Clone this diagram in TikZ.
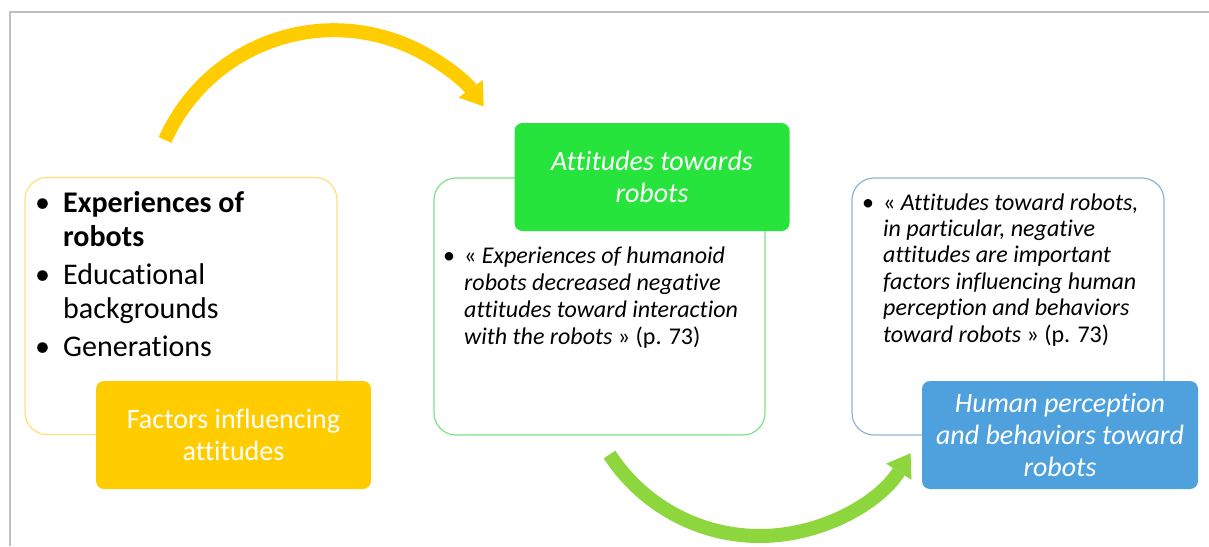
\documentclass[tikz,border=0pt]{standalone}
\usepackage{fontspec}
\setmainfont{Carlito}[Ligatures=NoCommon]
\usepackage{tikz}
\usetikzlibrary{arrows.meta}
\definecolor{factorsyellow}{RGB}{255,204,0}
\definecolor{factorsborder}{RGB}{255,224,120}
\definecolor{attitudesgreen}{RGB}{38,228,60}
\definecolor{attitudesborder}{RGB}{125,226,135}
\definecolor{perceptionblue}{RGB}{79,161,222}
\definecolor{perceptionborder}{RGB}{140,180,215}
\definecolor{arrowgreen}{RGB}{141,214,62}
\definecolor{frameline}{RGB}{191,191,191}
\tikzset{
	whitebox/.style={draw=#1, fill=white, line width=1.2pt, rounded corners=22pt, minimum height=257pt, inner sep=0pt},
	headbox/.style={fill=#1, rounded corners=8pt, minimum width=275pt, minimum height=108pt, text=white, align=center, font=\fontsize{28}{32}\selectfont},
	listtext/.style={anchor=north west, inner sep=0pt, align=left},
	bigarrow/.style={#1, line width=14pt, -{Triangle[length=22pt,width=30pt,line width=0pt]}}
}

\begin{document}
\begin{tikzpicture}[x=1pt,y=-1pt]
	\useasboundingbox (0,0) rectangle (1209,546);
	\draw[frameline, line width=2pt] (10,546) -- (10,12) -- (1209,12);

	\node[whitebox=factorsborder, minimum width=312pt] (factorsbox) at (181,306) {};
	\node[whitebox=attitudesborder, minimum width=331pt] (attitudesbox) at (599.5,306.5) {};
	\node[whitebox=perceptionborder, minimum width=312pt] (perceptionbox) at (1008,306.5) {};

	\node[listtext, font=\fontsize{30}{33.5}\selectfont] (factorslist) at (35,189) {%
		\begin{tabular}{@{}p{28pt}@{}l@{}}
			\textbullet & \textbf{Experiences of}\\
			& \textbf{robots}\\[5pt]
			\textbullet & Educational\\
			& backgrounds\\[5pt]
			\textbullet & Generations
		\end{tabular}};
	\node[listtext, font=\fontsize{24}{27}\selectfont] (attitudeslist) at (443,244) {%
		\begin{tabular}{@{}p{21pt}@{}l@{}}
			\textbullet & « \textit{Experiences of humanoid}\\
			& \textit{robots decreased negative}\\
			& \textit{attitudes toward interaction}\\
			& \textit{with the robots} » (p. 73)
		\end{tabular}};
	\node[listtext, font=\fontsize{24}{26.4}\selectfont] (perceptionlist) at (862,191.5) {%
		\begin{tabular}{@{}p{21pt}@{}l@{}}
			\textbullet & « \textit{Attitudes toward robots,}\\
			& \textit{in particular, negative}\\
			& \textit{attitudes are important}\\
			& \textit{factors influencing human}\\
			& \textit{perception and behaviors}\\
			& \textit{toward robots} » (p. 73)
		\end{tabular}};

	\node[headbox=factorsyellow] (factors) at (233.5,435) {Factors influencing\\attitudes};
	\node[headbox=attitudesgreen, font=\fontsize{28}{32}\selectfont\itshape] (attitudes) at (652,177) {Attitudes towards\\robots};
	\node[headbox=perceptionblue, minimum width=276pt, font=\fontsize{28}{32}\selectfont\itshape] (perception) at (1060,435) {Human perception\\and behaviors toward\\robots};

	\coordinate (yellowstart) at (165,140);
	\coordinate (greenstart) at (609.5,454.5);
	\draw[bigarrow=factorsyellow] (yellowstart) arc[start angle=-156, end angle=-36, radius=185];
	\draw[bigarrow=arrowgreen] (greenstart) arc[start angle=147, end angle=32.5, radius=179];
\end{tikzpicture}
\end{document}
